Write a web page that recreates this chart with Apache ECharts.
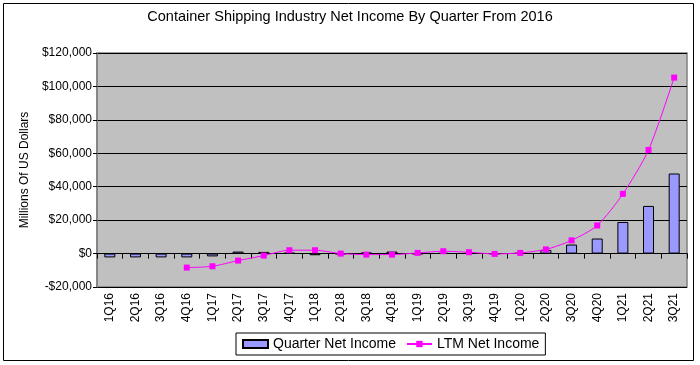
<!DOCTYPE html>
<html>
<head>
<meta charset="utf-8">
<script src="https://cdn.jsdelivr.net/npm/echarts@6/dist/echarts.min.js"></script>
<style>html,body{margin:0;padding:0;background:#fff;}#c{width:700px;height:365px;}</style>
</head>
<body>
<div id="c"></div>
<script>
var titleText = 'Container Shipping Industry Net Income By Quarter From 2016';
var yAxisName = 'Millions Of US Dollars';
var categories = ['1Q16','2Q16','3Q16','4Q16','1Q17','2Q17','3Q17','4Q17','1Q18','2Q18','3Q18','4Q18','1Q19','2Q19','3Q19','4Q19','1Q20','2Q20','3Q20','4Q20','1Q21','2Q21','3Q21'];
var quarterNetIncome = [-2300,-2300,-2300,-2300,-1700,1200,1000,500,-1000,-300,600,1200,-300,200,200,-200,300,2200,5400,9000,18900,28500,47900];
var ltmNetIncome = [null,null,null,-8400,-7600,-4200,-1200,2000,2000,0,-600,-600,400,1400,800,-200,400,2500,7900,16800,35700,62000,105300];
var seriesNames = ['Quarter Net Income','LTM Net Income'];
var yMin = -20000, yMax = 120000, yStep = 20000;

var FONT = 'Arial, "Liberation Sans", sans-serif';
function fmt(v){
  var s = Math.abs(v).toString().replace(/\B(?=(\d{3})+(?!\d))/g, ',');
  return (v < 0 ? '-$' : '$') + s;
}
var chart = echarts.init(document.getElementById('c'), null, {renderer:'canvas'});
chart.setOption({
  animation: false,
  backgroundColor: '#ffffff',
  textStyle: {fontFamily: FONT},
  title: {
    text: titleText, left: 'center', top: 9, padding: 0,
    textStyle: {fontSize: 14.5, fontWeight: 'normal', color: '#000', fontFamily: FONT}
  },
  graphic: [{
    type: 'rect', left: 1, top: 1, silent: true,
    shape: {width: 690, height: 357},
    style: {fill: 'none', stroke: '#000', lineWidth: 1}
  }],
  legend: {
    left: 236, top: 333, padding: [4, 6, 4, 6], itemGap: 10,
    itemWidth: 25, itemHeight: 8,
    borderColor: '#000', borderWidth: 1, backgroundColor: '#fff',
    textStyle: {fontSize: 14, color: '#000', fontFamily: FONT},
    data: [
      {name: seriesNames[0], icon: 'rect'},
      {name: seriesNames[1]}
    ]
  },
  grid: {
    left: 97, right: 13, top: 53, bottom: 78, show: true,
    backgroundColor: '#c0c0c0', borderColor: '#808080', borderWidth: 1.5
  },
  xAxis: [{
    type: 'category', data: categories, position: 'bottom',
    axisLine: {show: false, onZero: false},
    axisTick: {show: false},
    axisLabel: {rotate: 90, fontSize: 12, color: '#000', margin: 6, fontFamily: FONT, interval: 0}
  }, {
    type: 'category', data: categories, position: 'bottom',
    axisLine: {show: true, onZero: true, lineStyle: {color: '#000', width: 1}},
    axisTick: {show: true, length: 5, lineStyle: {color: '#000'}, interval: 0},
    axisLabel: {show: false}
  }],
  yAxis: {
    type: 'value', min: yMin, max: yMax, interval: yStep,
    name: yAxisName, nameLocation: 'middle', nameGap: 66, nameRotate: 90,
    nameTextStyle: {fontSize: 12, color: '#000', fontFamily: FONT},
    axisLine: {show: true, lineStyle: {color: '#808080', width: 1.5}},
    axisTick: {show: true, length: 4, lineStyle: {color: '#000'}},
    axisLabel: {formatter: fmt, fontSize: 12, color: '#000', margin: 5, fontFamily: FONT},
    splitLine: {show: true, lineStyle: {color: '#000', width: 1}}
  },
  series: [{
    name: seriesNames[0], type: 'bar', data: quarterNetIncome, barWidth: 11,
    xAxisIndex: 0,
    itemStyle: {color: '#9999ff', borderColor: '#000', borderWidth: 1}
  }, {
    name: seriesNames[1], type: 'line', data: ltmNetIncome, xAxisIndex: 0,
    smooth: 0.25, symbol: 'rect', symbolSize: 6, showSymbol: true,
    lineStyle: {color: '#ff00ff', width: 1},
    itemStyle: {color: '#ff00ff'}
  }]
});
</script>
</body>
</html>
